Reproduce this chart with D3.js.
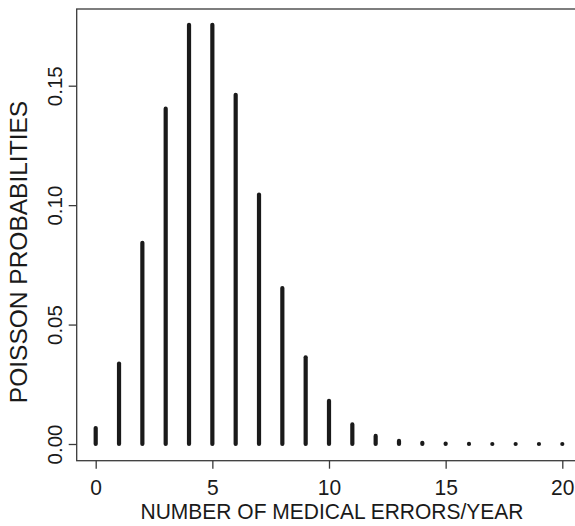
<!DOCTYPE html>
<html>
<head>
<meta charset="utf-8">
<script src="https://cdn.jsdelivr.net/npm/d3@7"></script>
<style>
  html, body { margin: 0; padding: 0; background: #fff; }
  svg { display: block; font-family: "Liberation Sans", Arial, Helvetica, sans-serif; }
</style>
</head>
<body>
<svg id="chart" width="575" height="526"></svg>
<script>
// Poisson probabilities, mean of 5 medical errors per year
const errorCounts = [0, 1, 2, 3, 4, 5, 6, 7, 8, 9, 10, 11, 12, 13, 14, 15, 16, 17, 18, 19, 20];
const probabilities = [0.0067, 0.0337, 0.0842, 0.1404, 0.1755, 0.1755, 0.1462, 0.1044, 0.0653,
  0.0363, 0.0181, 0.0082, 0.0034, 0.0013, 0.0005, 0.0002, 0.00005, 0.00001, 0.000002, 0, 0];
const xTicks = [0, 5, 10, 15, 20];
const yTicks = [0, 0.05, 0.10, 0.15];
const xTitle = "NUMBER OF MEDICAL ERRORS/YEAR";
const yTitle = "POISSON PROBABILITIES";

const svg = d3.select("#chart");
const frame = { left: 76.7, top: 9, bottom: 460.7, right: 590 };
const ink = "#1a1a1a";
const axisInk = "#3a3a3a";

const x = d3.scaleLinear().domain([0, 20]).range([95.7, 562.3]);
const y = d3.scaleLinear().domain([0, 0.15]).range([444, 85.7]);

// plot frame (right edge falls outside the canvas)
svg.append("rect")
  .attr("x", frame.left).attr("y", frame.top)
  .attr("width", frame.right - frame.left).attr("height", frame.bottom - frame.top)
  .attr("fill", "none").attr("stroke", axisInk).attr("stroke-width", 1.3);

// x axis
const xAxis = d3.axisBottom(x).tickValues(xTicks).tickFormat(d3.format("d")).tickSize(8).tickPadding(6);
const gx = svg.append("g").attr("transform", `translate(0,${frame.bottom})`).call(xAxis);
gx.select(".domain").remove();
gx.selectAll(".tick line").attr("stroke", axisInk).attr("stroke-width", 1.3);
gx.selectAll(".tick text")
  .attr("fill", ink).style("font-size", "21px")
  .attr("dy", null).attr("y", 0)
  .attr("transform", "translate(0,34) scale(1,1.08)");

// y axis
const yAxis = d3.axisLeft(y).tickValues(yTicks).tickFormat(d3.format(".2f")).tickSize(8).tickPadding(8);
const gy = svg.append("g").attr("transform", `translate(${frame.left},0)`).call(yAxis);
gy.select(".domain").remove();
gy.selectAll(".tick line").attr("stroke", axisInk).attr("stroke-width", 1.3);
gy.selectAll(".tick text")
  .attr("fill", ink).style("font-size", "20.5px")
  .attr("text-anchor", "middle").attr("dy", null)
  .attr("transform", "translate(-21,0) rotate(-90)")
  .attr("x", 0).attr("y", 6);

// probability spikes
const data = errorCounts.map((k, i) => ({ k, p: probabilities[i] }));
svg.append("g").selectAll("line").data(data).join("line")
  .attr("x1", d => x(d.k)).attr("x2", d => x(d.k))
  .attr("y1", y(0)).attr("y2", d => y(d.p))
  .attr("stroke", ink).attr("stroke-width", 4.2).attr("stroke-linecap", "round");

// axis titles
svg.append("text")
  .attr("transform", "translate(332,519) scale(1,1.08)")
  .attr("text-anchor", "middle").attr("fill", ink).style("font-size", "21px")
  .text(xTitle);

svg.append("text")
  .attr("transform", "translate(27,252) rotate(-90)")
  .attr("text-anchor", "middle").attr("fill", ink).style("font-size", "24.5px")
  .text(yTitle);
</script>
</body>
</html>
